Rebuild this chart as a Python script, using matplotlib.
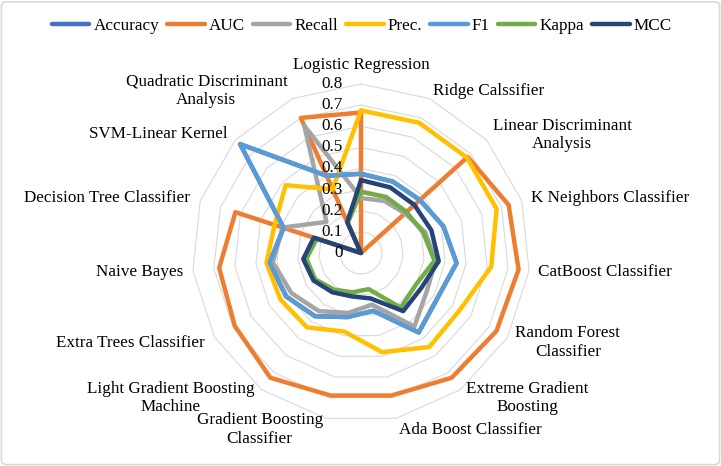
import numpy as np
import matplotlib
matplotlib.use("Agg")
import matplotlib.pyplot as plt
from matplotlib.patches import FancyBboxPatch

plt.rcParams['font.family'] = ['Liberation Serif', 'DejaVu Serif']

categories = ["Logistic Regression", "Ridge Calssifier", "Linear Discriminant\nAnalysis",
              "K Neighbors Classifier", "CatBoost Classifier", "Random Forest\nClassifier",
              "Extreme Gradient\nBoosting", "Ada Boost Classifier", "Gradient Boosting\nClassifier",
              "Light Gradient Boosting\nMachine", "Extra Trees Classifier", "Naive Bayes",
              "Decision Tree Classifier", "SVM-Linear Kernel", "Quadratic Discriminant\nAnalysis"]

accuracy = [0.375, 0.37, 0.375, 0.41, 0.455, 0.42, 0.465, 0.28, 0.31, 0.37, 0.41, 0.435, 0.385, 0.77, 0.40]
auc      = [0.665, 0.0, 0.68, 0.735, 0.75, 0.74, 0.73, 0.69, 0.69, 0.73, 0.69, 0.675, 0.625, 0.0, 0.70]
recall   = [0.26, 0.27, 0.28, 0.32, 0.355, 0.36, 0.43, 0.25, 0.29, 0.34, 0.38, 0.42, 0.39, 0.22, 0.66]
prec     = [0.675, 0.675, 0.675, 0.675, 0.62, 0.54, 0.55, 0.48, 0.38, 0.435, 0.44, 0.45, 0.43, 0.48, 0.33]
f1       = [0.375, 0.37, 0.375, 0.41, 0.455, 0.42, 0.465, 0.28, 0.31, 0.37, 0.41, 0.435, 0.385, 0.77, 0.40]
kappa    = [0.29, 0.29, 0.29, 0.31, 0.35, 0.30, 0.32, 0.175, 0.19, 0.215, 0.25, 0.26, 0.22, 0.0, 0.155]
mcc      = [0.345, 0.34, 0.34, 0.35, 0.37, 0.33, 0.34, 0.22, 0.21, 0.23, 0.26, 0.275, 0.235, 0.0, 0.16]

series_names = ["Accuracy", "AUC", "Recall", "Prec.", "F1", "Kappa", "MCC"]
series_values = [accuracy, auc, recall, prec, f1, kappa, mcc]
colors = ["#4472C4", "#ED7D31", "#A5A5A5", "#FFC000", "#5B9BD5", "#70AD47", "#264478"]

r_ticks = [0, 0.1, 0.2, 0.3, 0.4, 0.5, 0.6, 0.7, 0.8]
r_tick_labels = ["0", "0.1", "0.2", "0.3", "0.4", "0.5", "0.6", "0.7", "0.8"]

W, H = 721, 466
fig = plt.figure(figsize=(W / 100, H / 100), dpi=100)

cx, cy, R = 361, 253, 169
ax = fig.add_axes([(cx - R) / W, 1 - (cy + R) / H, 2 * R / W, 2 * R / H], projection='polar')
ax.set_theta_offset(np.pi / 2)
ax.set_theta_direction(-1)
ax.set_ylim(0, 0.8)
ax.grid(False)
ax.set_xticks([])
ax.set_yticks([])
ax.spines['polar'].set_visible(False)
ax.patch.set_alpha(0)

n = len(categories)
theta = np.arange(n) * 2 * np.pi / n
theta_c = np.append(theta, theta[0])

# polygon gridlines
for r in r_ticks[1:]:
    ax.plot(theta_c, [r] * (n + 1), color="#D9D9D9", lw=0.8, zorder=1, clip_on=False)

# series
for name, vals, col in zip(series_names, series_values, colors):
    v = list(vals) + [vals[0]]
    ax.plot(theta_c, v, color=col, lw=3.2, label=name, zorder=3, clip_on=False,
            solid_joinstyle='round', solid_capstyle='round')

# radial tick labels
for r, lab in zip(r_ticks, r_tick_labels):
    ax.annotate(lab, xy=(0, r), xytext=(-18, 0), textcoords='offset pixels',
                ha='right', va='center', fontsize=12.3, color='black', zorder=5)

# category labels (pixel offsets from the 0.8 vertex)
offsets = [(0, 19, 'center'), (3, 8, 'left'), (6, 5, 'left'), (9, 3, 'left'), (9, -1, 'left'),
           (8, -5, 'left'), (6, -8, 'left'), (3, -12, 'left'), (-3, -11, 'right'),
           (-7, -8, 'right'), (-10, -5, 'right'), (-10, -1, 'right'), (-10, 3, 'right'),
           (-8, 6, 'right'), (-5, 8, 'right')]
for t, lab, (dx, dy, ha) in zip(theta, categories, offsets):
    ax.annotate(lab, xy=(t, 0.8), xytext=(dx, dy), textcoords='offset pixels',
                ha=ha, va='center', multialignment='center', fontsize=12.3,
                color='black', annotation_clip=False)

fig.legend(loc='center', bbox_to_anchor=(0.502, 1 - 26 / H), ncol=7, frameon=False,
           fontsize=12.3, handlelength=2.2, handletextpad=0.25, columnspacing=0.45,
           borderaxespad=0)

border = FancyBboxPatch((0.002, 0.003), 0.996, 0.993, boxstyle="round,pad=0,rounding_size=0.008",
                        transform=fig.transFigure, fill=False, ec="#D9D9D9", lw=1.2)
fig.patches.append(border)

fig.savefig("out.png", dpi=100)
